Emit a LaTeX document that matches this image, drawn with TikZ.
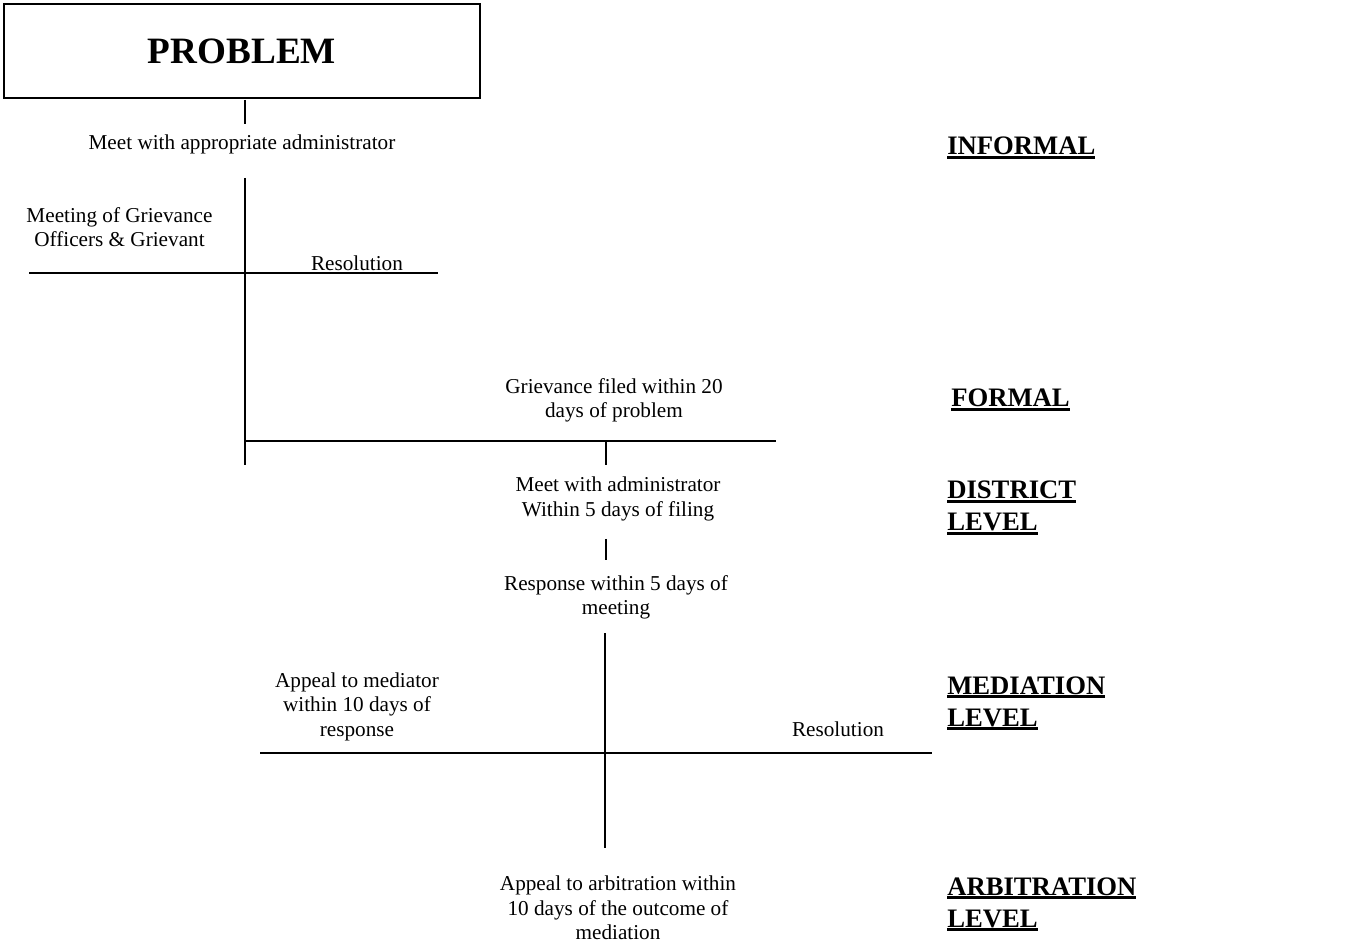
\documentclass[tikz,border=0pt]{standalone}
\usepackage{fontspec}
\setmainfont{Liberation Serif}
\newcommand\myul[1]{\setbox0\hbox{#1}\rlap{\rule[-3.2pt]{\wd0}{2.2pt}}\box0}
\begin{document}
\begin{tikzpicture}[x=0.75pt,y=-0.75pt,
  txt/.style={inner sep=0pt,align=center,font=\fontsize{15.9}{18.4}\selectfont},
  lvl/.style={inner sep=0pt,align=left,anchor=base west,font=\fontsize{20}{24}\selectfont\bfseries},
  ln/.style={line width=1.5pt}]
\useasboundingbox (0,0) rectangle (1353,944);
% problem box
\node[draw,line width=1.1pt,minimum width=476*0.75pt,minimum height=94*0.75pt,inner sep=0pt,
  font=\fontsize{27.9}{30}\selectfont\bfseries] (problem) at (242,51) {PROBLEM};
\coordinate (p1) at (245,100);
\coordinate (p2) at (245,124);
\draw[ln] (p1) -- (p2);
\node[txt] (meet) at (242,144) {Meet with appropriate administrator};
% informal cross
\coordinate (vtop) at (245,178);
\coordinate (vbot) at (245,465);
\coordinate (hl) at (29,273);
\coordinate (hr) at (438,273);
\coordinate (hc) at (245,273);
\coordinate (fl) at (245,441);
\coordinate (fr) at (776,441);
\draw[ln] (vtop) -- (vbot);
\draw[ln] (hl) -- (hr);
\draw[ln] (fl) -- (fr);
\node[txt] (mog) at (119.5,227) {Meeting of Grievance\\Officers \& Grievant};
\node[txt] (res1) at (357,263) {Resolution};
% formal
\node[txt] (filed) at (614,400.5) {Grievance filed within 20\\days of problem};
\coordinate (d1) at (606,441);
\coordinate (d2) at (606,465);
\draw[ln] (d1) -- (d2);
\node[txt] (madm) at (618,499) {Meet with administrator\\Within 5 days of filing};
\coordinate (d3) at (606,539);
\coordinate (d4) at (606,560);
\draw[ln] (d3) -- (d4);
\node[txt] (resp) at (616,597.5) {Response within 5 days of\\meeting};
% mediation cross
\coordinate (mtop) at (605,633);
\coordinate (mbot) at (605,848);
\coordinate (ml) at (260,753);
\coordinate (mr) at (932,753);
\draw[ln] (mtop) -- (mbot);
\draw[ln] (ml) -- (mr);
\node[txt] (amed) at (357,706.5) {Appeal to mediator\\within 10 days of\\response};
\node[txt] (res2) at (838,729) {Resolution};
\node[txt] (arb) at (618,908) {Appeal to arbitration within\\10 days of the outcome of\\mediation};
% level labels
\node[lvl] (linf) at (947,155) {\myul{INFORMAL}};
\node[lvl] (lfor) at (951,407) {\myul{FORMAL}};
\node[lvl] (ldis) at (947,531) {\myul{DISTRICT}\\\myul{LEVEL}};
\node[lvl] (lmed) at (947,726) {\myul{MEDIATION}\\\myul{LEVEL}};
\node[lvl] (larb) at (947,927) {\myul{ARBITRATION}\\\myul{LEVEL}};
\end{tikzpicture}
\end{document}
